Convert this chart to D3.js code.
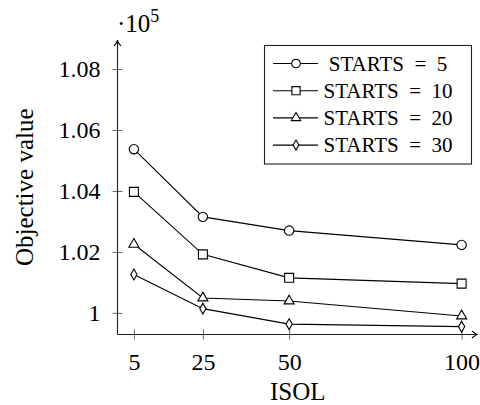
<!DOCTYPE html>
<html>
<head>
<meta charset="utf-8">
<script src="https://cdn.jsdelivr.net/npm/d3@7"></script>
<style>
  body { margin: 0; background: #fff; }
  svg text { font-family: 'Liberation Serif', 'Times New Roman', serif; fill: #000; }
</style>
</head>
<body>
<div id="chart"></div>
<script>
// values (objective value, raw units)
var isol = [5, 25, 50, 100];
var starts = [5, 10, 20, 30];
var obj5 = [105370, 103150, 102700, 102230];
var obj10 = [103970, 101920, 101150, 100960];
var obj20 = [102250, 100490, 100390, 99900];
var obj30 = [101260, 100140, 99630, 99550];
var yTicks = [100000, 102000, 104000, 106000, 108000];
var xTicks = [5, 25, 50, 100];
var series = [obj5, obj10, obj20, obj30];
var markers = ["circle", "square", "triangle", "diamond"];

var serif = "'Liberation Serif', 'Times New Roman', serif";
var width = 480, height = 405;
var svg = d3.select("#chart").append("svg")
  .attr("width", width)
  .attr("height", height)
  .attr("font-family", serif);

var x = d3.scaleLinear().domain([0.25, 104.75]).range([117.5, 478]);
var y = d3.scaleLinear().domain([99291, 108952]).range([334.5, 40]);

function markerPath(kind, big) {
  var s = big ? 1 : 0.85;
  if (kind == "circle") return d3.symbol().type(d3.symbolCircle).size(69 * s)();
  if (kind == "square") return d3.symbol().type(d3.symbolSquare).size(80 * s)();
  if (kind == "triangle") return d3.symbol().type(d3.symbolTriangle).size(44 * s)();
  return d3.symbol().type(d3.symbolDiamond).size(34 * s)();
}

// y axis
var yAxis = svg.append("g")
  .attr("transform", "translate(" + x.range()[0] + ",0)")
  .call(d3.axisLeft(y).tickValues(yTicks).tickSizeInner(5).tickSizeOuter(0).tickPadding(12)
    .tickFormat(function(d) { return d3.format("~g")(d / 1e5); }));
yAxis.attr("font-family", serif).attr("font-size", 24);
yAxis.select(".domain").remove();
yAxis.selectAll(".tick line").attr("x1", 5).attr("stroke", "#666");

// x axis
var xAxis = svg.append("g")
  .attr("transform", "translate(0," + y.range()[0] + ")")
  .call(d3.axisBottom(x).tickValues(xTicks).tickSizeInner(5).tickSizeOuter(0).tickPadding(13));
xAxis.attr("font-family", serif).attr("font-size", 24);
xAxis.select(".domain").remove();
xAxis.selectAll(".tick line").attr("y1", -5).attr("stroke", "#666");

// axis lines with arrow heads
var x0 = x.range()[0], y0 = y.range()[0], x1 = x.range()[1], y1 = y.range()[1];
svg.append("path")
  .attr("d", "M" + x0 + "," + y0 + "V" + y1)
  .attr("stroke", "#222").attr("stroke-width", 1.1).attr("fill", "none");
svg.append("path")
  .attr("d", "M" + x0 + "," + y0 + "H" + x1)
  .attr("stroke", "#222").attr("stroke-width", 1.1).attr("fill", "none");
svg.append("path")
  .attr("d", "M" + (x0 - 3.5) + "," + (y1 + 6) + "Q" + x0 + "," + (y1 + 2) + " " + x0 + "," + y1 +
    "Q" + x0 + "," + (y1 + 2) + " " + (x0 + 3.5) + "," + (y1 + 6))
  .attr("stroke", "#000").attr("stroke-width", 1.1).attr("fill", "none");
svg.append("path")
  .attr("d", "M" + (x1 - 6) + "," + (y0 - 3.5) + "Q" + (x1 - 2) + "," + y0 + " " + x1 + "," + y0 +
    "Q" + (x1 - 2) + "," + y0 + " " + (x1 - 6) + "," + (y0 + 3.5))
  .attr("stroke", "#000").attr("stroke-width", 1.1).attr("fill", "none");

// scale factor
var sf = svg.append("text").attr("x", 117).attr("y", 32).attr("font-size", 25);
sf.append("tspan").text("·10");
sf.append("tspan").attr("dy", -10).attr("font-size", 18).text("5");

// axis labels
svg.append("text")
  .attr("x", (x0 + x1) / 2)
  .attr("y", 400)
  .attr("text-anchor", "middle")
  .attr("font-size", 25)
  .text("ISOL");

svg.append("text")
  .attr("transform", "translate(33," + (y0 + y1) / 2 + ") rotate(-90)")
  .attr("text-anchor", "middle")
  .attr("font-size", 25)
  .text("Objective value");

// lines + markers
var line = d3.line()
  .x(function(d, i) { return x(isol[i]); })
  .y(function(d) { return y(d); });

series.forEach(function(vals, k) {
  svg.append("path")
    .datum(vals)
    .attr("d", line)
    .attr("fill", "none")
    .attr("stroke", "#000")
    .attr("stroke-width", 1.1);

  svg.selectAll(".m" + k)
    .data(vals)
    .enter().append("path")
    .attr("class", "m" + k)
    .attr("transform", function(d, i) { return "translate(" + x(isol[i]) + "," + y(d) + ")"; })
    .attr("d", markerPath(markers[k], true))
    .attr("fill", "#fff")
    .attr("stroke", "#000")
    .attr("stroke-width", 1.1);
});

// legend
var legend = svg.append("g");
legend.append("rect")
  .attr("x", 264.5).attr("y", 45.5)
  .attr("width", 207).attr("height", 118.5)
  .attr("fill", "#fff")
  .attr("stroke", "#222")
  .attr("stroke-width", 1.1);

var rows = legend.selectAll(".legend")
  .data(starts)
  .enter().append("g")
  .attr("class", "legend")
  .attr("transform", function(d, i) { return "translate(0," + (63.5 + i * 27.2) + ")"; });

rows.append("line")
  .attr("x1", 273).attr("x2", 318)
  .attr("stroke", "#000").attr("stroke-width", 1.1);
rows.append("path")
  .attr("transform", "translate(296,0)")
  .attr("d", function(d, i) { return markerPath(markers[i], false); })
  .attr("fill", "#fff")
  .attr("stroke", "#000")
  .attr("stroke-width", 1.1);
rows.append("text")
  .attr("x", 388)
  .attr("dy", "0.35em")
  .attr("text-anchor", "middle")
  .attr("font-size", 21)
  .text(function(d) { return "STARTS\u2002=\u2002" + d; });
</script>
</body>
</html>
